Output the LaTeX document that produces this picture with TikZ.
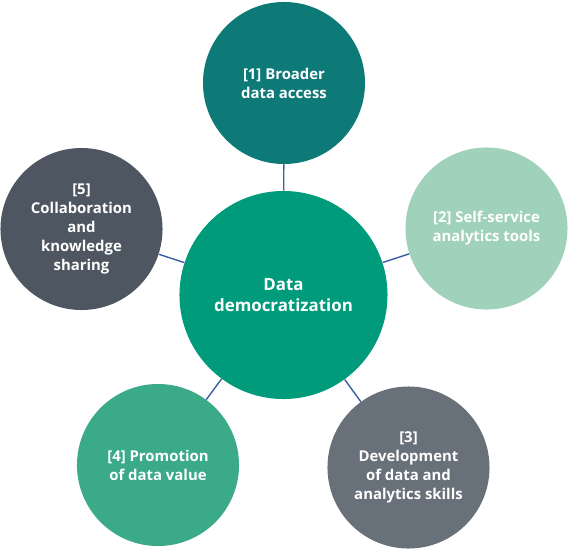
\documentclass[tikz,border=0pt]{standalone}
\usepackage{fontspec}
\setmainfont{Open Sans}
\usepackage{tikz}
\usetikzlibrary{positioning}
\definecolor{hubgreen}{HTML}{009B7B}
\definecolor{accessteal}{HTML}{0E7A78}
\definecolor{toolsmint}{HTML}{A0D1BB}
\definecolor{skillsgray}{HTML}{68707A}
\definecolor{valuegreen}{HTML}{3AAA88}
\definecolor{sharegray}{HTML}{4E5761}
\definecolor{spoke}{HTML}{3D5DA5}

\begin{document}
\begin{tikzpicture}[x=0.025cm, y=-0.025cm,
  bubble/.style={circle, inner sep=0pt, minimum size=4.05cm, text=white,
    align=center, font=\bfseries\fontsize{10.6}{13.4}\selectfont},
  spokeline/.style={spoke, line width=1pt}]
  \useasboundingbox (0,0) rectangle (568,549);

  % Hub
  \node[circle, fill=hubgreen, inner sep=0pt, minimum size=5.2cm, text=white,
    align=center, font=\bfseries\fontsize{12}{14.4}\selectfont]
    (hub) at (283.5,295) {Data\\democratization};

  % Outer bubbles
  \node[bubble, fill=accessteal] (access) at (284,83)
    {[1] Broader\\data access};
  \node[bubble, fill=toolsmint] (tools) at (486.5,228.5)
    {[2] Self-service\\analytics tools};
  \node[bubble, fill=skillsgray] (skills) at (408.5,467.5)
    {[3]\\Development\\of data and\\analytics skills};
  \node[bubble, fill=valuegreen] (value) at (158,465)
    {[4] Promotion\\of data value};
  \node[bubble, fill=sharegray] (share) at (81.5,229)
    {[5]\\Collaboration\\and\\knowledge\\sharing};

  % Spokes
  \foreach \n in {access,tools,skills,value,share}
    \draw[spokeline] (hub) -- (\n);
\end{tikzpicture}
\end{document}
